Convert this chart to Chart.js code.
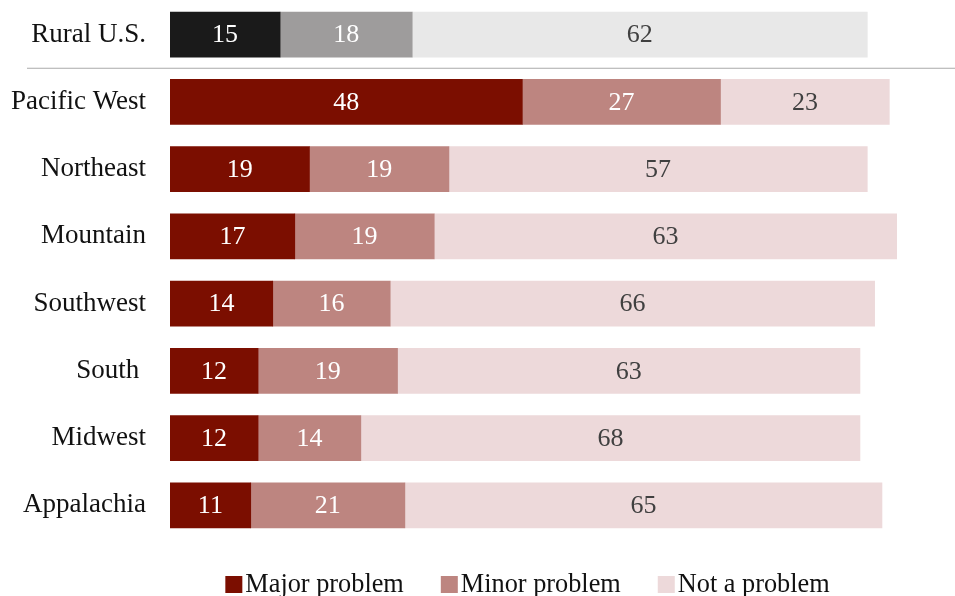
<!DOCTYPE html>
<html>
<head>
<meta charset="utf-8">
<script src="https://cdn.jsdelivr.net/npm/chart.js@4"></script>
<style>
html,body{margin:0;padding:0;background:#fff;}
#wrap{width:955px;height:596px;position:relative;}
</style>
</head>
<body>
<div id="wrap"><canvas id="c" width="955" height="596"></canvas></div>
<script>
const categories = ["Rural U.S.", "Pacific West", "Northeast", "Mountain", "Southwest", "South ", "Midwest", "Appalachia"];
const majorProblem = [15, 48, 19, 17, 14, 12, 12, 11];
const minorProblem = [18, 27, 19, 19, 16, 19, 14, 21];
const notAProblem  = [62, 23, 57, 63, 66, 63, 68, 65];
const seriesNames = ["Major problem", "Minor problem", "Not a problem"];

const ruralColors = ["#1a1a1a", "#9e9c9c", "#e8e8e8"];
const regionColors = ["#7b0e00", "#bd8580", "#edd9da"];
const textColors = ["#ffffff", "#ffffff", "#404040"];

function colorsFor(i) {
  return categories.map((c, k) => k === 0 ? ruralColors[i] : regionColors[i]);
}

const FONT = "'Liberation Serif', 'Times New Roman', serif";

const labelPlugin = {
  id: 'valueLabels',
  afterDatasetsDraw(chart) {
    const ctx = chart.ctx;
    ctx.save();
    ctx.font = "26px " + FONT;
    ctx.textAlign = "center";
    ctx.textBaseline = "middle";
    chart.data.datasets.forEach((ds, di) => {
      const meta = chart.getDatasetMeta(di);
      meta.data.forEach((el, i) => {
        const cx = (el.x + el.base) / 2;
        ctx.fillStyle = textColors[di];
        ctx.fillText(String(ds.data[i]), cx, el.y + 1);
      });
    });
    ctx.restore();
  }
};

const separatorPlugin = {
  id: 'separator',
  afterDraw(chart) {
    const y = chart.scales.y;
    const yy = (y.getPixelForValue(0) + y.getPixelForValue(1)) / 2;
    const ctx = chart.ctx;
    ctx.save();
    ctx.strokeStyle = "#aaaaaa";
    ctx.lineWidth = 1.2;
    ctx.beginPath();
    ctx.moveTo(27, yy);
    ctx.lineTo(chart.width, yy);
    ctx.stroke();
    ctx.restore();
  }
};

const legendPlugin = {
  id: 'customLegend',
  afterDraw(chart) {
    const ctx = chart.ctx;
    ctx.save();
    ctx.font = "26.3px " + FONT;
    const box = 17, gap = 3, itemGap = 37;
    const widths = seriesNames.map(n => ctx.measureText(n).width);
    let total = 0;
    widths.forEach((w, i) => { total += box + gap + w + (i < widths.length - 1 ? itemGap : 0); });
    let x = 527.5 - total / 2;
    const baseY = 592;
    ctx.textBaseline = "alphabetic";
    ctx.textAlign = "left";
    seriesNames.forEach((n, i) => {
      ctx.fillStyle = regionColors[i];
      ctx.fillRect(x, 576, box, box);
      ctx.fillStyle = "#111111";
      ctx.fillText(n, x + box + gap, baseY);
      x += box + gap + widths[i] + itemGap;
    });
    ctx.restore();
  }
};

new Chart(document.getElementById('c'), {
  type: 'bar',
  data: {
    labels: categories,
    datasets: [
      { label: seriesNames[0], data: majorProblem, backgroundColor: colorsFor(0) },
      { label: seriesNames[1], data: minorProblem, backgroundColor: colorsFor(1) },
      { label: seriesNames[2], data: notAProblem, backgroundColor: colorsFor(2) }
    ]
  },
  options: {
    indexAxis: 'y',
    responsive: false,
    animation: false,
    devicePixelRatio: 1,
    layout: { padding: { left: 0, right: 51, top: 1, bottom: 57 } },
    datasets: { bar: { barThickness: 45, borderWidth: 0 } },
    scales: {
      x: {
        stacked: true, min: 0, max: 100,
        display: false
      },
      y: {
        stacked: true,
        grid: { display: false },
        border: { display: false },
        ticks: {
          color: "#111111",
          font: { family: FONT, size: 27 },
          padding: 16
        },
        afterFit(scale) {
          scale.width = 170;
          scale.paddingTop = 0;
          scale.paddingBottom = 0;
        }
      }
    },
    plugins: {
      tooltip: { enabled: false },
      legend: { display: false }
    }
  },
  plugins: [labelPlugin, separatorPlugin, legendPlugin]
});
</script>
</body>
</html>
